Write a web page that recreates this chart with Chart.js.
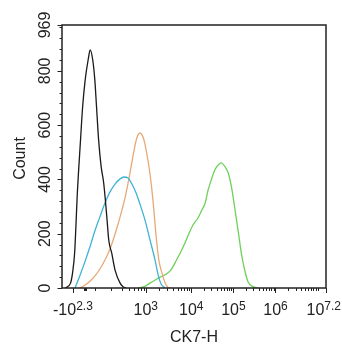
<!DOCTYPE html>
<html>
<head>
<meta charset="utf-8">
<script src="https://cdn.jsdelivr.net/npm/chart.js@4.4.1/dist/chart.umd.min.js"></script>
<style>
  html, body { margin: 0; padding: 0; background: #fff; }
  #wrap { width: 342px; height: 350px; }
</style>
</head>
<body>
<div id="wrap"><canvas id="histChart" width="342" height="350"></canvas></div>
<script>
// x values are on the biexponential display scale (1 unit = 1 decade in the log part)
const blackX = [1.01, 1.13, 1.18, 1.23, 1.26, 1.29, 1.37, 1.42, 1.48, 1.55, 1.60, 1.66, 1.71, 1.75, 1.80, 1.86, 1.92, 1.96, 2.00, 2.04, 2.11, 2.19, 2.31, 2.38, 2.45];
const blackY = [0, 17, 55, 129, 226, 336, 545, 668, 766, 840, 877, 840, 766, 668, 545, 447, 387, 324, 251, 177, 129, 66, 18, 5, 0];

const cyanX = [1.24, 1.36, 1.48, 1.60, 1.71, 1.83, 1.95, 2.07, 2.19, 2.31, 2.40, 2.50, 2.59, 2.69, 2.78, 2.90, 3.02, 3.14, 3.22, 3.29, 3.38];
const cyanY = [0, 48, 99, 155, 210, 262, 313, 354, 383, 402, 409, 405, 383, 350, 310, 251, 177, 103, 44, 13, 0];

const orangeX = [1.36, 1.48, 1.60, 1.71, 1.83, 1.95, 2.07, 2.19, 2.31, 2.43, 2.54, 2.62, 2.70, 2.78, 2.87, 2.95, 3.02, 3.09, 3.17, 3.23, 3.31, 3.38, 3.45, 3.52];
const orangeY = [0, 11, 26, 44, 70, 103, 144, 199, 262, 335, 420, 490, 549, 571, 549, 490, 420, 324, 184, 103, 52, 18, 2, 0];

const greenX = [2.74, 2.90, 3.02, 3.26, 3.50, 3.65, 3.81, 3.93, 4.04, 4.16, 4.25, 4.33, 4.40, 4.49, 4.56, 4.64, 4.71, 4.80, 4.88, 4.96, 5.04, 5.12, 5.20, 5.28, 5.35, 5.47, 5.59];
const greenY = [0, 6, 18, 40, 63, 103, 152, 195, 232, 258, 287, 313, 361, 405, 435, 453, 461, 447, 423, 368, 287, 203, 118, 59, 22, 5, 0];

// axis labels: "10" with a raised exponent
const xTickPos = [1.19, 2.92, 4, 5, 6, 7.2];
const xTickBase = ['-10', '10', '10', '10', '10', '10'];
const xTickExp = ['2.3', '3', '4', '5', '6', '7.2'];
const xMin = 0.93;
const xMax = 7.2;

const yTicks = [0, 200, 400, 600, 800, 969];
const yMax = 969;

const FONT = 'Arial, "Liberation Sans", sans-serif';
const INK = '#222';

function toPoints(xs, ys) {
    return xs.map(function(v, i) { return { x: v, y: ys[i] }; });
}

// minor x ticks: log spacing inside each decade, plus a few near zero
function xMinorTicks() {
    const ticks = [1.45, 1.47, 1.49, 1.71, 2.10, 2.35, 2.52, 2.64, 2.74, 2.81, 2.87];
    const decades = [[2.92, 4], [4, 5], [5, 6], [6, 7]];
    decades.forEach(function(d) {
        for (let k = 2; k <= 9; k++) {
            ticks.push(d[0] + (d[1] - d[0]) * Math.log10(k));
        }
    });
    ticks.push(7);
    return ticks;
}

const axesPlugin = {
    id: 'flowAxes',
    afterDraw: function(chart) {
        const ctx = chart.ctx;
        const a = chart.chartArea;
        const xs = chart.scales.x;
        const ys = chart.scales.y;
        ctx.save();

        // frame
        ctx.strokeStyle = INK;
        ctx.lineWidth = 1.5;
        ctx.strokeRect(a.left, a.top, a.right - a.left, a.bottom - a.top);

        // y ticks
        ctx.lineWidth = 1;
        ctx.beginPath();
        for (let v = 40; v < yMax; v += 40) {
            if (v % 200 === 0) continue;
            const py = Math.round(ys.getPixelForValue(v)) + 0.5;
            ctx.moveTo(a.left, py);
            ctx.lineTo(a.left - 2.5, py);
        }
        yTicks.forEach(function(v) {
            const py = Math.round(ys.getPixelForValue(v)) + 0.5;
            ctx.moveTo(a.left, py);
            ctx.lineTo(a.left - 4.5, py);
        });
        // x ticks
        xMinorTicks().forEach(function(v) {
            const px = Math.round(xs.getPixelForValue(v)) + 0.5;
            ctx.moveTo(px, a.bottom);
            ctx.lineTo(px, a.bottom + 3);
        });
        xTickPos.forEach(function(v) {
            const px = Math.round(xs.getPixelForValue(v)) + 0.5;
            ctx.moveTo(px, a.bottom);
            ctx.lineTo(px, a.bottom + 5);
        });
        ctx.stroke();

        ctx.fillStyle = INK;

        // y tick labels, rotated
        ctx.font = '16px ' + FONT;
        ctx.textAlign = 'center';
        ctx.textBaseline = 'alphabetic';
        yTicks.forEach(function(v) {
            ctx.save();
            ctx.translate(a.left - 12, ys.getPixelForValue(v));
            ctx.rotate(-Math.PI / 2);
            ctx.fillText(String(v), 0, 0);
            ctx.restore();
        });

        // x tick labels with superscript exponent
        xTickPos.forEach(function(v, i) {
            ctx.font = '16px ' + FONT;
            const wb = ctx.measureText(xTickBase[i]).width;
            ctx.font = '12px ' + FONT;
            const we = ctx.measureText(xTickExp[i]).width;
            let left = xs.getPixelForValue(v) - (wb + we) / 2;
            left = Math.min(left, chart.width - 1 - wb - we);
            ctx.textAlign = 'left';
            ctx.font = '16px ' + FONT;
            ctx.fillText(xTickBase[i], left, a.bottom + 26.5);
            ctx.font = '12px ' + FONT;
            ctx.fillText(xTickExp[i], left + wb, a.bottom + 21.5);
        });

        // axis titles
        ctx.font = '16px ' + FONT;
        ctx.textAlign = 'center';
        ctx.fillText('CK7-H', (a.left + a.right) / 2, a.bottom + 54);
        ctx.save();
        ctx.translate(a.left - 37, (a.top + a.bottom) / 2 + 2);
        ctx.rotate(-Math.PI / 2);
        ctx.fillText('Count', 0, 0);
        ctx.restore();

        ctx.restore();
    }
};

function series(label, xs, ys, color) {
    return {
        label: label,
        data: toPoints(xs, ys),
        borderColor: color,
        borderWidth: 1.3,
        pointRadius: 0,
        fill: false,
        cubicInterpolationMode: 'monotone'
    };
}

new Chart(document.getElementById('histChart').getContext('2d'), {
    type: 'line',
    data: {
        datasets: [
            series('Isotype', blackX, blackY, '#1a1a1a'),
            series('Sample 1', cyanX, cyanY, '#3fb3d6'),
            series('Sample 2', orangeX, orangeY, '#e6a977'),
            series('CK7', greenX, greenY, '#6fd05a')
        ]
    },
    options: {
        responsive: false,
        animation: false,
        layout: { padding: { left: 62, right: 16, top: 25, bottom: 62 } },
        scales: {
            x: { type: 'linear', min: xMin, max: xMax, display: false },
            y: { type: 'linear', min: 0, max: yMax, display: false }
        },
        plugins: {
            legend: { display: false },
            tooltip: { enabled: false }
        }
    },
    plugins: [axesPlugin]
});
</script>
</body>
</html>
